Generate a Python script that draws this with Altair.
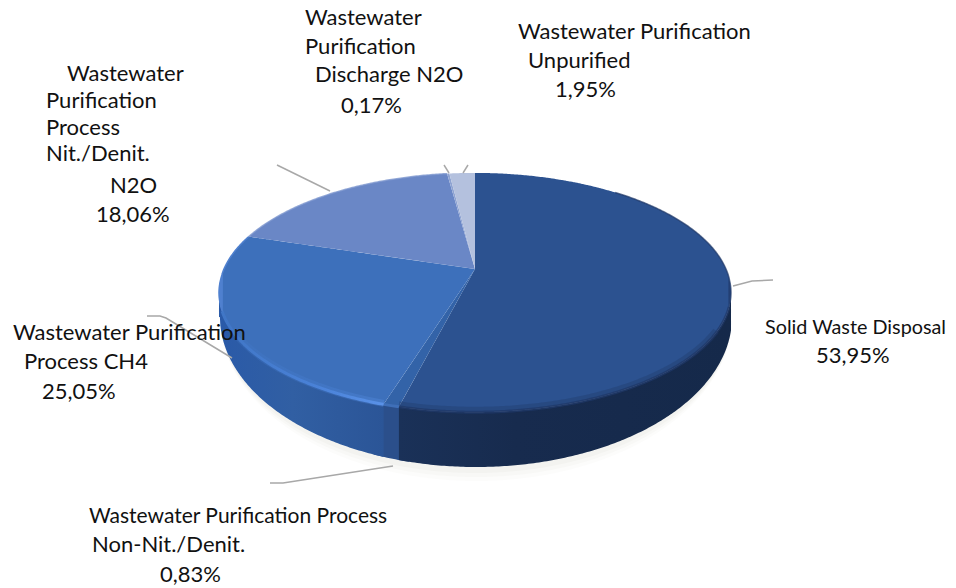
import numpy as np
import pandas as pd
import altair as alt

# ---- chart values ----
slice_names = ["Solid Waste Disposal", "Non-Nit./Denit.", "Process CH4",
               "Nit./Denit. N2O", "Discharge N2O", "Unpurified"]
shares = [53.95, 0.83, 25.05, 18.06, 0.17, 1.95]
top_colors = ["#2c5290", "#3363a8", "#3d70bb", "#6a87c6", "#8ea3d2", "#b4c1de"]

label_lines = ["Wastewater", "Purification", "Discharge N2O", "0,17%",
               "Wastewater Purification", "Unpurified", "1,95%",
               "Wastewater", "Purification", "Process", "Nit./Denit.", "N2O", "18,06%",
               "Solid Waste Disposal", "53,95%",
               "Wastewater Purification", "Process CH4", "25,05%",
               "Wastewater Purification Process", "Non-Nit./Denit.", "0,83%"]
label_x = [305, 305, 315, 341, 518, 528, 555, 67, 46, 46, 46, 110, 96,
           765, 816, 13, 24, 42, 89, 92, 160]
label_y = [25, 54, 82, 113, 39, 68, 97, 81, 108, 135, 161, 193, 222,
           334, 363, 340, 369, 399, 523, 552, 582]
label_size = [22, 22, 22, 22, 22, 22, 22, 22, 22, 22, 22, 22, 22,
              19.8, 22, 22, 22, 22, 21, 22, 22]

leader_lines = {
    "n2o": ([277, 330], [165, 191]),
    "discharge": ([444, 449], [165, 173]),
    "unpurified": ([463, 468], [173, 165]),
    "solid": ([733, 752, 773], [286, 281, 280]),
    "ch4": ([147, 160, 166, 232], [316, 316, 318, 358]),
    "nonnit": ([270, 283, 393], [483, 483, 466]),
}

# ---- pie geometry: perspective view of a circle ----
CX, CY, AX, BY, K = 475.0, 269.0, 251.0, 115.0, 0.197
LOW_CY, LOW_RY, LOW_RX = 317.0, 150.0, 256.0


def rim(theta_deg):
    t = np.radians(theta_deg)
    u, v = np.sin(t), -np.cos(t)
    w = 1 - K * v
    return CX + AX * u / w, CY + BY * v / w


def envelope(poly_x, poly_y):
    poly_x, poly_y = np.asarray(poly_x), np.asarray(poly_y)
    xs = np.unique(np.round(poly_x, 3))
    samples = np.sort(np.concatenate([xs - 1e-3, xs + 1e-3]))
    samples = samples[(samples > poly_x.min()) & (samples < poly_x.max())]
    rows = []
    x0, y0 = poly_x, poly_y
    x1, y1 = np.roll(poly_x, -1), np.roll(poly_y, -1)
    for s in samples:
        hit = (x0 - s) * (x1 - s) < 0
        ys = y0[hit] + (s - x0[hit]) / (x1[hit] - x0[hit]) * (y1[hit] - y0[hit])
        if len(ys):
            rows.append({"x": s, "y": ys.min(), "y2": ys.max()})
    return pd.DataFrame(rows)


def arc(a, b, step=0.5):
    n = max(int(abs(b - a) / step), 2)
    return np.linspace(a, b, n + 1)


def sector(a, b):
    px, py = rim(arc(a, b))
    return envelope(np.r_[CX, px], np.r_[CY, py])


def wall(a, b, extra=0.0):
    a, b = max(a, 101.4), min(b, 258.6)
    x, y = rim(arc(a, b))
    f = np.sqrt(np.clip(1 - ((x - 476.0) / LOW_RX) ** 2, 0, 1))
    low = np.maximum(LOW_CY + LOW_RY * f, y) + extra * f
    return pd.DataFrame({"x": x, "y": y, "y2": low})


def rim_line(a, b, lift=0.0):
    x, y = rim(arc(a, b))
    return pd.DataFrame({"x": x, "y": y - lift})


edges = np.r_[0, np.cumsum(shares)] / sum(shares) * 360

X = alt.X("x:Q", axis=None, scale=alt.Scale(domain=[8, 948], nice=False, zero=False))
Y = alt.Y("y:Q", axis=None, scale=alt.Scale(domain=[16, 588], reverse=True, nice=False, zero=False))
Y2 = alt.Y2("y2:Q")


def hgrad(*stops):
    return alt.Gradient(gradient="linear", x1=0, x2=1, y1=0, y2=0,
                        stops=[alt.GradientStop(offset=o, color=c) for o, c in stops])


def area(df, color, opacity=1.0):
    return alt.Chart(df).mark_area(color=color, opacity=opacity, interpolate="linear").encode(x=X, y=Y, y2=Y2)


def line(df, color, width, opacity=1.0):
    return alt.Chart(df).mark_line(color=color, strokeWidth=width, opacity=opacity, strokeCap="butt").encode(x=X, y=Y)


layers = []

# soft shadow below the disc
for d, op in [(14, 0.025), (10, 0.03), (6, 0.04)]:
    layers.append(area(wall(101.4, 258.6, d), "#77735f", op))

# side walls
layers.append(area(wall(edges[1] - 2, edges[2] + 2), "#2b4f8b"))
layers.append(area(wall(edges[0], edges[1]),
                   hgrad((0, "#1a3158"), (0.35, "#172b4e"), (1, "#15294a"))))
layers.append(area(wall(edges[2], edges[3]),
                   hgrad((0, "#2a5aa8"), (0.45, "#315fa3"), (1, "#2b5597"))))

# top faces
for i, c in enumerate(top_colors):
    layers.append(area(sector(edges[i], edges[i + 1]), c))

# bevel along the rim
layers.append(line(rim_line(120, edges[1], 2), "#1f3867", 7, 0.35))
layers.append(line(rim_line(108, edges[1]), "#1f3867", 3, 0.7))
layers.append(line(rim_line(40, 108), "#1f3867", 1.5, 0.7))
layers.append(line(rim_line(edges[1], edges[2]), "#3f6fb8", 3))
layers.append(line(rim_line(edges[2], 240, 1), hgrad((0, "#4076c6"), (0.6, "#4a82d8"), (1, "#5a92e8")), 7, 0.3))
layers.append(line(rim_line(edges[2], 250), hgrad((0, "#4076c6"), (0.6, "#4a82d8"), (1, "#5a92e8")), 3))
layers.append(line(rim_line(250, edges[3]), "#4f80cf", 1.5))
layers.append(line(rim_line(edges[3], edges[4]), "#7f98d0", 1.5, 0.8))

# leader lines
for xs, ys in leader_lines.values():
    layers.append(line(pd.DataFrame({"x": xs, "y": ys}), "#a8a8a8", 1.5))

# labels
labels = pd.DataFrame({"x": label_x, "y": label_y, "t": label_lines, "s": label_size})
layers.append(alt.Chart(labels).mark_text(align="left", baseline="alphabetic", font="Lato",
                                          color="#111111").encode(
    x=X, y=Y, text="t:N", size=alt.Size("s:Q", scale=None, legend=None)))

chart = alt.layer(*layers).properties(
    width=940, height=572, padding={"left": 0, "top": 8, "right": 0, "bottom": 0},
    autosize=alt.AutoSizeParams(type="none"), background="white"
).configure_view(stroke=None)

chart.save("out.html", embed_options={"renderer": "svg", "actions": False})
